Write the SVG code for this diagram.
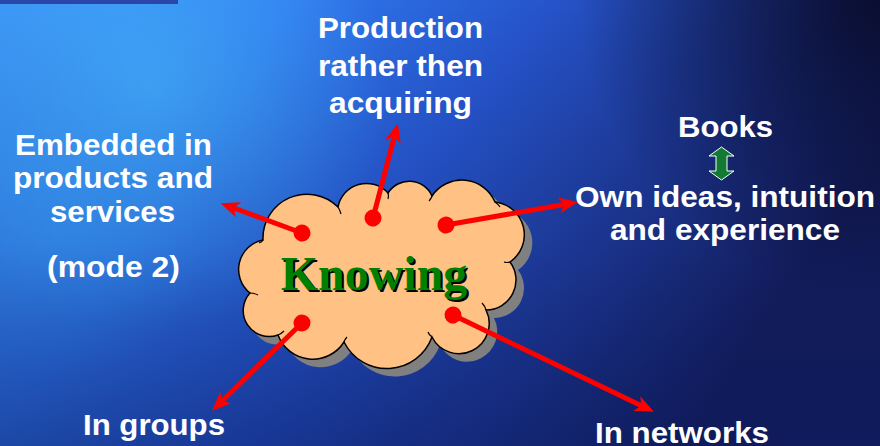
<svg xmlns="http://www.w3.org/2000/svg" width="880" height="446" viewBox="0 0 880 446">
  <defs>
    <linearGradient id="bgBase" x1="0" y1="0" x2="1" y2="0.35">
      <stop offset="0" stop-color="#3a90f4"/>
      <stop offset="0.3" stop-color="#2f78ee"/>
      <stop offset="0.55" stop-color="#2655cc"/>
      <stop offset="0.8" stop-color="#1d3690"/>
      <stop offset="1" stop-color="#141c58"/>
    </linearGradient>
    <linearGradient id="bgBottom" x1="0" y1="0" x2="0" y2="1">
      <stop offset="0" stop-color="#0a1a60" stop-opacity="0"/>
      <stop offset="0.55" stop-color="#0a1a60" stop-opacity="0.15"/>
      <stop offset="1" stop-color="#0a1a60" stop-opacity="0.5"/>
    </linearGradient>
    <radialGradient id="glow1" cx="150" cy="90" r="240" gradientUnits="userSpaceOnUse">
      <stop offset="0" stop-color="#48c0ff" stop-opacity="0.6"/>
      <stop offset="1" stop-color="#48c0ff" stop-opacity="0"/>
    </radialGradient>
    <radialGradient id="glow2" cx="60" cy="230" r="150" gradientUnits="userSpaceOnUse">
      <stop offset="0" stop-color="#3aa8ff" stop-opacity="0.4"/>
      <stop offset="1" stop-color="#3aa8ff" stop-opacity="0"/>
    </radialGradient>
    <radialGradient id="darkTR" cx="880" cy="0" r="300" gradientUnits="userSpaceOnUse">
      <stop offset="0" stop-color="#080a28" stop-opacity="0.9"/>
      <stop offset="1" stop-color="#080a28" stop-opacity="0"/>
    </radialGradient>
    <marker id="head" viewBox="0 -9 20 18" refX="8" refY="0" markerWidth="20" markerHeight="18" markerUnits="userSpaceOnUse" orient="auto">
      <path d="M19,0 L0,-8 L5,0 L0,8 Z" fill="#ff0000"/>
    </marker>
    <marker id="dot" viewBox="-9 -9 18 18" refX="0" refY="0" markerWidth="18" markerHeight="18" markerUnits="userSpaceOnUse" orient="auto">
      <circle cx="0" cy="0" r="8.5" fill="#ff0000"/>
    </marker>
    <path id="cloudShape" d="M263,240 A44,44 0 0 1 338,207 A29,29 0 0 1 388,193 A25,25 0 0 1 432,196 A36,36 0 0 1 495,202 A33,33 0 0 1 510,262 A30,30 0 0 1 486,310 A30,30 0 0 1 432,337 A48,48 0 0 1 344,342 A37,37 0 0 1 278,335 A26,26 0 0 1 250,293 A30,30 0 0 1 263,240 Z"/>
  </defs>
  <style>
    .lbl { font-family: "Liberation Sans", Arial, sans-serif; font-weight: bold; font-size: 30px; fill: #ffffff; text-anchor: middle; }
    .conn { stroke: #ff0000; stroke-width: 5; fill: none; marker-start: url(#dot); marker-end: url(#head); }
    .kn { font-family: "Liberation Serif", "Times New Roman", serif; font-weight: bold; font-size: 48px; text-anchor: middle; }
  </style>

  <!-- background -->
  <rect x="0" y="0" width="880" height="446" fill="url(#bgBase)"/>
  <rect x="0" y="0" width="880" height="446" fill="url(#glow1)"/>
  <rect x="0" y="0" width="880" height="446" fill="url(#glow2)"/>
  <rect x="0" y="0" width="880" height="446" fill="url(#darkTR)"/>
  <rect x="0" y="0" width="880" height="446" fill="url(#bgBottom)"/>
  <rect x="0" y="0" width="178" height="4" fill="#2b45a8"/>

  <!-- central cloud node -->
  <g id="knowing">
    <use href="#cloudShape" transform="translate(8,8)" fill="#808080"/>
    <use href="#cloudShape" fill="#ffc184" stroke="#000000" stroke-width="1.5"/>
    <g fill="none" stroke="#000000" stroke-width="1.2">
      <path d="M338,207 q2,3 3,7"/>
      <path d="M388,193 q1,3 0,6"/>
      <path d="M432,196 q-1,3 -3,5"/>
      <path d="M495,202 q3,2 5,5"/>
      <path d="M510,262 q-3,1 -6,0"/>
      <path d="M486,310 q-1,-4 -4,-7"/>
      <path d="M432,337 q-3,-2 -4,-5"/>
      <path d="M344,342 q1,-3 3,-5"/>
      <path d="M278,335 q3,-1 6,-4"/>
      <path d="M250,293 q4,0 8,2"/>
      <path d="M263,240 q-1,2 -4,3"/>
    </g>
    <text class="kn" x="376" y="292" fill="#000000">Knowing</text>
    <text class="kn" x="374" y="290" fill="#008000">Knowing</text>
  </g>

  <!-- connectors -->
  <g id="connectors">
    <line class="conn" x1="373" y1="218" x2="395" y2="134"/>
    <line class="conn" x1="302" y1="233" x2="231" y2="207"/>
    <line class="conn" x1="446" y1="225" x2="567" y2="204"/>
    <line class="conn" x1="302" y1="323" x2="220" y2="403"/>
    <line class="conn" x1="453" y1="315" x2="644" y2="407"/>
  </g>

  <g id="production">
    <text class="lbl" x="400.5" y="38" textLength="165" lengthAdjust="spacingAndGlyphs">Production</text>
    <text class="lbl" x="400.5" y="76" textLength="165" lengthAdjust="spacingAndGlyphs">rather then</text>
    <text class="lbl" x="400.5" y="113" textLength="143" lengthAdjust="spacingAndGlyphs">acquiring</text>
  </g>

  <g id="embedded">
    <text class="lbl" x="113.5" y="155" textLength="197" lengthAdjust="spacingAndGlyphs">Embedded in</text>
    <text class="lbl" x="113" y="188" textLength="200" lengthAdjust="spacingAndGlyphs">products and</text>
    <text class="lbl" x="112.5" y="222" textLength="125" lengthAdjust="spacingAndGlyphs">services</text>
    <text class="lbl" x="113.5" y="277" textLength="133" lengthAdjust="spacingAndGlyphs">(mode 2)</text>
  </g>

  <g id="books">
    <text class="lbl" x="725.5" y="137" textLength="95" lengthAdjust="spacingAndGlyphs">Books</text>
    <polygon points="721.5,147 734,156 727,156 727,171 734,171 721.5,180 709,171 716,171 716,156 709,156" fill="#137a33" stroke="#ffffff" stroke-width="1"/>
    <text class="lbl" x="725" y="207" textLength="300" lengthAdjust="spacingAndGlyphs">Own ideas, intuition</text>
    <text class="lbl" x="725" y="240" textLength="230" lengthAdjust="spacingAndGlyphs">and experience</text>
  </g>

  <g id="groups">
    <text class="lbl" x="154" y="435" textLength="142" lengthAdjust="spacingAndGlyphs">In groups</text>
  </g>

  <g id="networks">
    <text class="lbl" x="682" y="443" textLength="174" lengthAdjust="spacingAndGlyphs">In networks</text>
  </g>
</svg>
